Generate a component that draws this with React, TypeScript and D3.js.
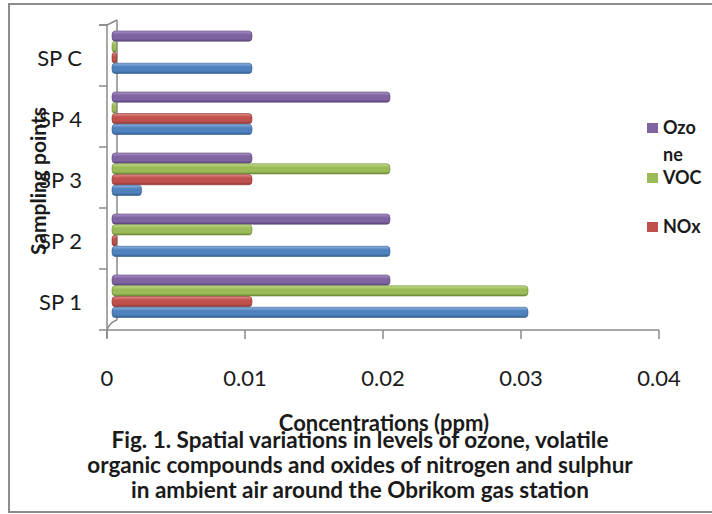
import React from "react";
import * as d3 from "d3";

const categories = ["SP 1", "SP 2", "SP 3", "SP 4", "SP C"];
const seriesNames = ["Ozone", "VOC", "NOx", "SOx"]; // top to bottom inside a group
const ozoneValues = [0.02, 0.02, 0.01, 0.02, 0.01];
const vocValues = [0.03, 0.01, 0.02, 0.0002, 0.0002];
const noxValues = [0.01, 0.0002, 0.01, 0.01, 0.0002];
const soxValues = [0.03, 0.02, 0.002, 0.01, 0.01];
const xTicks = [0, 0.01, 0.02, 0.03, 0.04];
const xTickLabels = ["0", "0.01", "0.02", "0.03", "0.04"];
const legendItems = [
  { name: "Ozone", lines: ["Ozo", "ne"] },
  { name: "VOC", lines: ["VOC"] },
  { name: "NOx", lines: ["NOx"] },
];
const captionLines = [
  "Fig. 1. Spatial variations in levels of ozone, volatile",
  "organic compounds and oxides of nitrogen and sulphur",
  "in ambient air around the Obrikom gas station",
];

const valuesBySeries: Record<string, number[]> = {
  Ozone: ozoneValues,
  VOC: vocValues,
  NOx: noxValues,
  SOx: soxValues,
};

const colors: Record<string, { light: string; base: string; dark: string }> = {
  Ozone: { light: "#a992c6", base: "#8064a2", dark: "#5a4577" },
  VOC: { light: "#c4dc8a", base: "#9bbb59", dark: "#6f8a38" },
  NOx: { light: "#e08c89", base: "#c0504d", dark: "#8c3431" },
  SOx: { light: "#8fb3e0", base: "#4f81bd", dark: "#335c8e" },
};

const FONT = "Lato, 'Open Sans', sans-serif";

export default function App() {
  const W = 712;
  const H = 514;
  const x = d3.scaleLinear().domain([0, 0.04]).range([107, 659]);
  const y = d3.scaleBand<string>().domain(categories).range([330, 25]);
  const yInner = d3
    .scaleBand<string>()
    .domain(seriesNames)
    .range([0, y.bandwidth()])
    .paddingOuter(0.837);
  const dx = 5;
  const dy = -3;
  const axisColor = "#8a8a8a";
  const bandEdges = categories.map((c) => (y(c) as number)).concat([25]);

  return (
    <svg
      width={W}
      height={H}
      style={{ position: "absolute", left: 0, top: 0, background: "#fff" }}
      fontFamily={FONT}
    >
      <defs>
        {seriesNames.map((s) => (
          <linearGradient key={s} id={`g-${s}`} x1="0" y1="0" x2="0" y2="1">
            <stop offset="0" stopColor={colors[s].light} />
            <stop offset="0.35" stopColor={colors[s].base} />
            <stop offset="0.75" stopColor={colors[s].base} />
            <stop offset="1" stopColor={colors[s].dark} />
          </linearGradient>
        ))}
      </defs>
      <rect x={9} y={4} width={720} height={508} fill="none" stroke="#8c8c8c" strokeWidth={2} />

      {/* back wall line and 3D corners */}
      <line x1={117} y1={20} x2={117} y2={320} stroke={axisColor} strokeWidth={1.5} />
      <path d={`M${x(0)},25 L117,20`} stroke={axisColor} strokeWidth={1.5} fill="none" />
      <path d={`M${x(0)},330 Q110,322 117,320`} stroke={axisColor} strokeWidth={1.5} fill="none" />

      {/* bars */}
      {categories.map((c, ci) =>
        seriesNames.map((s) => {
          const v = valuesBySeries[s][ci];
          const by = (y(c) as number) + (yInner(s) as number) + dy;
          const bh = yInner.bandwidth();
          const x0 = x(0) + dx;
          const w = Math.max(x(v) - x(0), 2.5);
          return (
            <g key={`${c}-${s}`}>
              <rect
                x={x0}
                y={by}
                width={w + 2}
                height={bh - 0.5}
                rx={Math.min(3, w / 2)}
                ry={Math.min(4, bh / 2)}
                fill={`url(#g-${s})`}
                stroke={colors[s].dark}
                strokeWidth={0.6}
              />
            </g>
          );
        })
      )}

      {/* y axis */}
      <line x1={x(0)} y1={25} x2={x(0)} y2={338} stroke={axisColor} strokeWidth={1.5} />
      {bandEdges.map((e, i) => (
        <line key={i} x1={99} y1={e} x2={x(0)} y2={e} stroke={axisColor} strokeWidth={1.5} />
      ))}
      {categories.map((c) => (
        <text
          key={c}
          x={82}
          y={(y(c) as number) + y.bandwidth() / 2 + 10}
          textAnchor="end"
          fontSize={22}
          fill="#1a1a1a"
        >
          {c}
        </text>
      ))}

      {/* x axis */}
      <line x1={99} y1={330} x2={x(0.04)} y2={330} stroke={axisColor} strokeWidth={1.5} />
      {xTicks.map((t, i) => (
        <g key={t}>
          <line x1={x(t)} y1={330} x2={x(t)} y2={339} stroke={axisColor} strokeWidth={1.5} />
          <text x={x(t)} y={386} textAnchor="middle" fontSize={22} fill="#1a1a1a">
            {xTickLabels[i]}
          </text>
        </g>
      ))}

      {/* axis titles */}
      <text
        transform="translate(46,181) rotate(-90)"
        textAnchor="middle"
        fontSize={21}
        fontWeight="bold"
        fill="#1a1a1a"
      >
        Sampling points
      </text>
      <text x={384} y={431} textAnchor="middle" fontSize={22} fontWeight="bold" fill="#1a1a1a">
        Concentrations (ppm)
      </text>

      {/* caption */}
      {captionLines.map((l, i) => (
        <text
          key={i}
          x={360}
          y={448 + i * 25}
          textAnchor="middle"
          fontSize={22.5}
          fontWeight="bold"
          fill="#1a1a1a"
        >
          {l}
        </text>
      ))}

      {/* legend */}
      {legendItems.map((item, i) => {
        const ly = [123, 173, 222][i];
        return (
          <g key={item.name}>
            <rect x={647} y={ly} width={11} height={10} fill={colors[item.name].base} />
            {item.lines.map((ln, j) => (
              <text key={j} x={663} y={ly + 11 + j * 27} fontSize={18} fontWeight="bold" fill="#1a1a1a">
                {ln}
              </text>
            ))}
          </g>
        );
      })}
    </svg>
  );
}
